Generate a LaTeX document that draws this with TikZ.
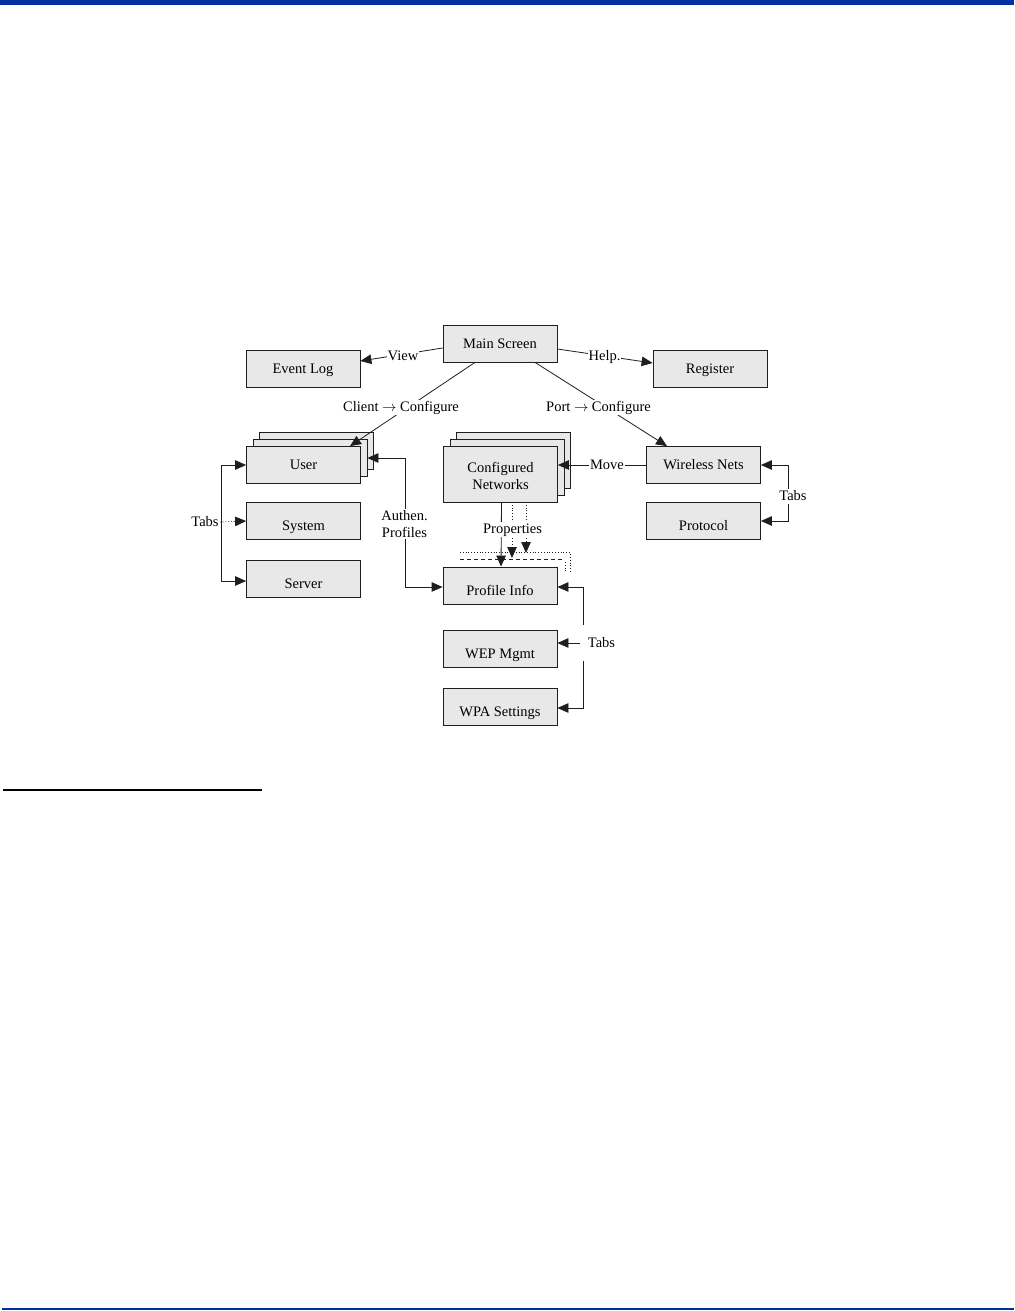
\documentclass[tikz,border=0pt]{standalone}
\usepackage{fontspec}
\setmainfont{Liberation Serif}
\usetikzlibrary{arrows.meta,calc}
\definecolor{barblue}{RGB}{0,48,160}
\definecolor{boxgray}{RGB}{232,232,232}
\definecolor{ink}{RGB}{30,30,30}
\tikzset{
  txt/.style={font=\fontsize{14.5bp}{17bp}\selectfont},
  boxbase/.style={draw=ink, line width=0.8bp, fill=boxgray, minimum width=114bp, minimum height=37bp, inner sep=0pt, txt},
  box/.style={boxbase, text height=11bp, text depth=2bp},
  low/.style={text height=19bp, text depth=0bp},
  conn/.style={draw=ink, line width=0.8bp},
  tip/.tip={Triangle[length=11bp,width=9.5bp]},
  arr/.style={conn, -tip},
  darr/.style={conn, tip-tip},
  lbl/.style={fill=white, inner sep=1bp, txt, text height=11bp, text depth=2bp},
}
\begin{document}
\begin{tikzpicture}[x=1bp,y=-1bp]
\useasboundingbox[fill=white] (0,0) rectangle (1014,1311);
% page decorations
\fill[barblue] (0,0) rectangle (1014,5.5);
\fill[barblue] (2,1308.3) rectangle (1014,1310.3);
\draw[black, line width=1.3bp] (3,790) -- (262,790);

% boxes
\node[box] (main) at (500,343.5) {Main Screen};
\node[box] (event) at (303,369) {Event Log};
\node[box] (register) at (710,369) {Register};
\node[boxbase] (user3) at (316.5,451) {};
\node[boxbase] (user2) at (310,458) {};
\node[box] (user) at (303.5,465) {User};
\node[box,low] (system) at (303.5,521) {System};
\node[box,low] (server) at (303.5,579) {Server};
\node[boxbase,minimum height=56bp] (confnet3) at (513.5,460) {};
\node[boxbase,minimum height=56bp] (confnet2) at (507,467) {};
\node[boxbase,minimum height=56bp] (confnet) at (500.5,474)
  {\raisebox{-3.5bp}[\height][\depth]{\begin{tabular}{@{}c@{}}Configured\\Networks\end{tabular}}};
\node[box] (wireless) at (703.5,465) {Wireless Nets};
\node[box,low] (protocol) at (703.5,521) {Protocol};
\node[box,low] (profile) at (500,585.5) {Profile Info};
\node[box,low] (wep) at (500,648.5) {WEP Mgmt};
\node[box,low] (wpa) at (500,706.5) {WPA Settings};

% connectors from main screen
\draw[arr] ($(main.west)+(0,4.5)$) -- ($(event.east)+(0,-8)$);
\draw[arr] ($(main.east)+(0,5.5)$) -- ($(register.west)+(0,-6)$);
\draw[arr] ($(main.south)+(-25,0)$) -- ($(user.north)+(46.5,0)$);
\draw[arr] ($(main.south)+(35,0)$) -- ($(wireless.north)+(-36.5,0)$);
% move
\draw[arr] (wireless.west) -- (wireless.west -| confnet.east);
% authen profiles
\coordinate (au) at (405,458);
\draw[darr] (user2.east) -- (au) |- ($(profile.west)+(0,1.5)$);
% tabs left
\draw[darr] (user.west) -- ++(-24.5,0) |- ($(server.west)+(0,2)$);
% tabs right
\draw[darr] (wireless.east) -- ++(27,0) |- (protocol.east);
% tabs profile
\coordinate (tp1) at (583,625);
\coordinate (tp2) at (583,661);
\coordinate (tp3) at (580,643);
\draw[arr] (tp1) |- ($(profile.east)+(0,1.5)$);
\draw[arr] (tp2) |- ($(wpa.east)+(0,1.5)$);
\draw[arr] (tp3) -- (tp3 -| wep.east);
% properties
\draw[arr] ($(confnet.south)+(1,0)$) -- ($(profile.north)+(1,0)$);
\coordinate (pa1) at (512,502); \coordinate (pa2) at (512,558);
\coordinate (pb1) at (526,502); \coordinate (pb2) at (526,553);
\draw[arr,dotted] (pa1) -- (pa2);
\draw[arr,dotted] (pb1) -- (pb2);
\draw[conn,dotted] (460,552.5) -- (570,552.5) -- (570,572);
\draw[conn,dash pattern=on 4bp off 3bp] (460,559.5) -- (562,559.5);
\draw[conn,dotted] (565,562) -- (565,572);

% labels
\node[lbl] (lview) at (403,356) {View};
\node[lbl] (lhelp) at (604.5,356) {Help.};
\node[lbl] (lclient) at (401,407) {Client $\rightarrow$ Configure};
\node[lbl] (lport) at (598.5,407) {Port $\rightarrow$ Configure};
\node[lbl] (lmove) at (607,465) {Move};
\node[fill=white, inner sep=1bp, txt, align=center] (lauth) at (404.5,524) {Authen.\\Profiles};
\node[lbl] (ltabsL) at (205,522) {Tabs};
\draw[arr,dotted] (ltabsL.east) -- (system.west);
\node[lbl] (ltabsR) at (793,496) {Tabs};
\node[lbl] (ltabsP) at (601.5,643) {Tabs};
\node[lbl] (lprop) at (512.5,529) {Properties};
\end{tikzpicture}
\end{document}
